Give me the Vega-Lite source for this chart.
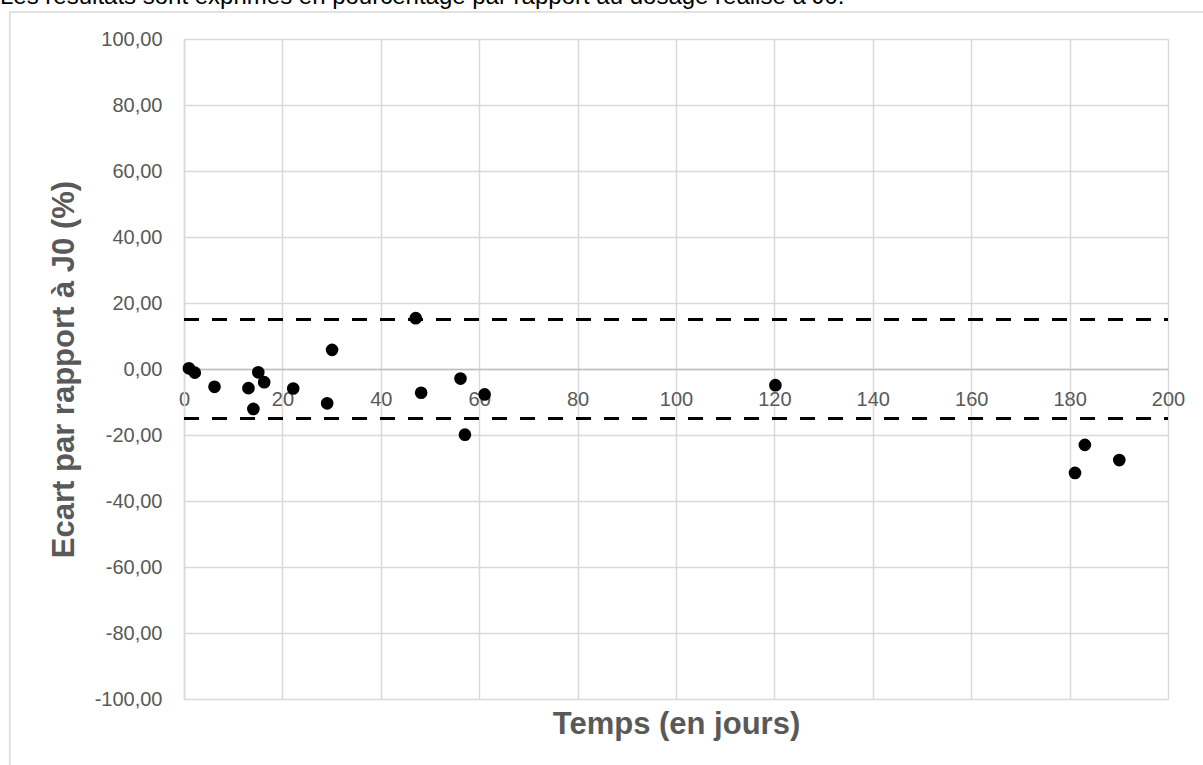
{
  "$schema": "https://vega.github.io/schema/vega-lite/v6.json",
  "width": 984,
  "height": 660,
  "autosize": {"type": "none"},
  "padding": {"left": 184, "top": 39, "right": 35, "bottom": 66},
  "background": "white",
  "title": {
    "text": "Les résultats sont exprimés en pourcentage par rapport au dosage réalisé à J0.",
    "anchor": "start",
    "frame": "group",
    "dx": -184,
    "dy": 17,
    "offset": 0,
    "baseline": "alphabetic",
    "font": "Liberation Sans",
    "fontSize": 24,
    "fontWeight": "normal",
    "color": "#000000"
  },
  "config": {"view": {"stroke": null}},
  "layer": [
    {
      "data": {"values": [{}]},
      "mark": {"type": "rect", "fill": null, "stroke": "#d9d9d9", "strokeWidth": 1.5, "clip": false},
      "encoding": {
        "x": {"datum": -35.4, "type": "quantitative", "scale": {"domain": [0, 200], "nice": false}},
        "x2": {"datum": 215},
        "y": {"datum": 108.2, "type": "quantitative", "scale": {"domain": [-100, 100], "nice": false}},
        "y2": {"datum": -130}
      }
    },
    {
      "data": {"values": [{"lim": 15}, {"lim": -15}]},
      "mark": {"type": "rule", "color": "#000000", "strokeWidth": 3.2, "strokeDash": [15, 13]},
      "encoding": {
        "x": {"datum": 0, "type": "quantitative"},
        "x2": {"datum": 200},
        "y": {"field": "lim", "type": "quantitative"}
      }
    },
    {
      "data": {
        "values": [
          {"t": 1, "ecart": 0.2},
          {"t": 2.2, "ecart": -1.1},
          {"t": 6.2, "ecart": -5.4},
          {"t": 13.1, "ecart": -5.8},
          {"t": 14.1, "ecart": -12.1},
          {"t": 15.1, "ecart": -1.0},
          {"t": 16.3, "ecart": -4.0},
          {"t": 22.2, "ecart": -5.9},
          {"t": 29.1, "ecart": -10.4},
          {"t": 30.1, "ecart": 5.8},
          {"t": 47.1, "ecart": 15.4},
          {"t": 48.2, "ecart": -7.2},
          {"t": 56.2, "ecart": -2.9},
          {"t": 57.1, "ecart": -19.9},
          {"t": 61.1, "ecart": -7.7},
          {"t": 120.2, "ecart": -4.9},
          {"t": 181.1, "ecart": -31.5},
          {"t": 183.1, "ecart": -23.0},
          {"t": 190.1, "ecart": -27.6}
        ]
      },
      "mark": {"type": "circle", "color": "#000000", "opacity": 1, "size": 160},
      "encoding": {
        "x": {
          "field": "t",
          "type": "quantitative",
          "axis": {
            "orient": "bottom",
            "offset": -330,
            "values": [0, 20, 40, 60, 80, 100, 120, 140, 160, 180, 200],
            "grid": true,
            "gridColor": "#d9d9d9",
            "gridWidth": 1.5,
            "ticks": false,
            "domainColor": "#bfbfbf",
            "domainWidth": 1.5,
            "labelFont": "Liberation Sans",
            "labelFontSize": 20,
            "labelColor": "#595959",
            "labelPadding": 20,
            "labelFlush": false,
            "labelOverlap": false,
            "title": "Temps (en jours)",
            "titleFont": "Liberation Sans",
            "titleFontSize": 31,
            "titleFontWeight": "bold",
            "titleColor": "#595959",
            "titleX": 492,
            "titleY": 364,
            "titleAlign": "center",
            "titleBaseline": "alphabetic"
          }
        },
        "y": {
          "field": "ecart",
          "type": "quantitative",
          "axis": {
            "values": [-100, -80, -60, -40, -20, 0, 20, 40, 60, 80, 100],
            "grid": true,
            "gridColor": "#d9d9d9",
            "gridWidth": 1.5,
            "ticks": false,
            "domainColor": "#d9d9d9",
            "domainWidth": 1.5,
            "labelExpr": "replace(replace(format(datum.value, '.2f'), '.', ','), '−', '-')",
            "labelFont": "Liberation Sans",
            "labelFontSize": 20,
            "labelColor": "#595959",
            "labelPadding": 22,
            "labelOverlap": false,
            "title": "Ecart par rapport à J0 (%)",
            "titleFont": "Liberation Sans",
            "titleFontSize": 31,
            "titleFontWeight": "bold",
            "titleColor": "#595959",
            "titleX": -120,
            "titleY": 330,
            "titleAngle": 270,
            "titleAlign": "center",
            "titleBaseline": "middle"
          }
        }
      }
    }
  ]
}
